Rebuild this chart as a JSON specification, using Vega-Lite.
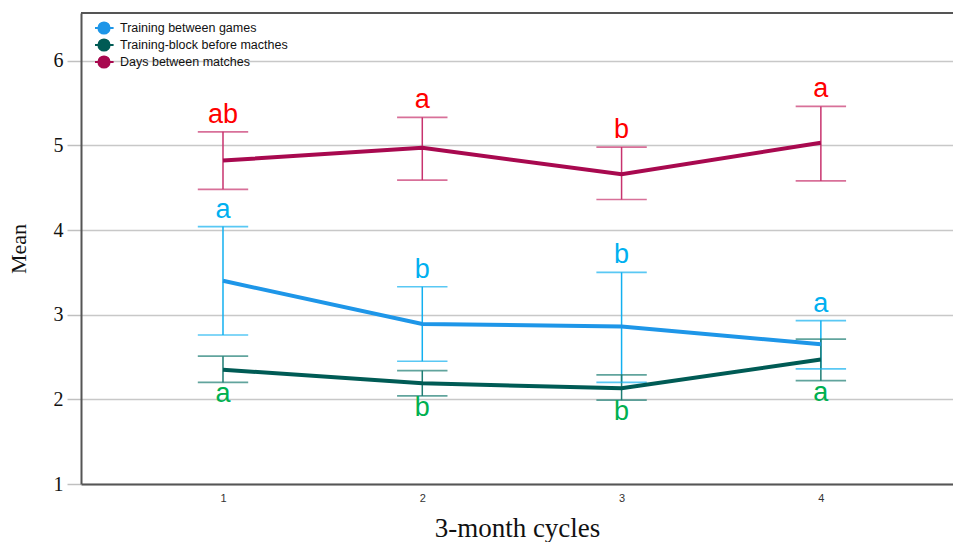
{
  "$schema": "https://vega.github.io/schema/vega-lite/v6.json",
  "width": 872,
  "height": 471,
  "autosize": {"type": "none"},
  "padding": {"left": 81, "top": 13, "right": 0, "bottom": 58},
  "background": "white",
  "config": {"view": {"stroke": null}},
  "data": {
    "values": [
      {"cycle": 1, "group": "Days between matches", "mean": 4.82, "lower": 4.48, "upper": 5.16, "letter": "ab"},
      {"cycle": 2, "group": "Days between matches", "mean": 4.97, "lower": 4.59, "upper": 5.33, "letter": "a"},
      {"cycle": 3, "group": "Days between matches", "mean": 4.66, "lower": 4.36, "upper": 4.98, "letter": "b"},
      {"cycle": 4, "group": "Days between matches", "mean": 5.03, "lower": 4.58, "upper": 5.46, "letter": "a"},
      {"cycle": 1, "group": "Training between games", "mean": 3.40, "lower": 2.76, "upper": 4.04, "letter": "a"},
      {"cycle": 2, "group": "Training between games", "mean": 2.89, "lower": 2.45, "upper": 3.33, "letter": "b"},
      {"cycle": 3, "group": "Training between games", "mean": 2.86, "lower": 2.20, "upper": 3.50, "letter": "b"},
      {"cycle": 4, "group": "Training between games", "mean": 2.65, "lower": 2.36, "upper": 2.93, "letter": "a"},
      {"cycle": 1, "group": "Training-block before macthes", "mean": 2.35, "lower": 2.20, "upper": 2.51, "letter": "a"},
      {"cycle": 2, "group": "Training-block before macthes", "mean": 2.19, "lower": 2.04, "upper": 2.34, "letter": "b"},
      {"cycle": 3, "group": "Training-block before macthes", "mean": 2.13, "lower": 1.99, "upper": 2.29, "letter": "b"},
      {"cycle": 4, "group": "Training-block before macthes", "mean": 2.47, "lower": 2.22, "upper": 2.71, "letter": "a"}
    ]
  },
  "layer": [
    {
      "mark": {"type": "rule", "color": "#555", "strokeWidth": 2},
      "encoding": {"y": {"datum": 6.563, "type": "quantitative"}}
    },
    {
      "mark": {"type": "rule", "strokeWidth": 1.5},
      "encoding": {
        "x": {
          "field": "cycle", "type": "quantitative",
          "scale": {"domain": [0.2875, 4.663], "nice": false, "zero": false},
          "axis": {
            "values": [1, 2, 3, 4], "format": "d", "grid": false, "ticks": false,
            "domain": true, "domainColor": "#555", "domainWidth": 2,
            "labelFont": "Liberation Sans", "labelFontSize": 11, "labelColor": "#333", "labelPadding": 8,
            "title": "3-month cycles", "titleFont": "Liberation Serif", "titleFontSize": 27,
            "titleFontWeight": "normal", "titleColor": "#111", "titlePadding": 12
          }
        },
        "y": {
          "field": "lower", "type": "quantitative",
          "scale": {"domain": [1, 6.563], "nice": false, "zero": false},
          "axis": {
            "values": [1, 2, 3, 4, 5, 6], "format": "d", "grid": true, "gridColor": "#c8c8c8", "gridWidth": 1.5,
            "ticks": true, "tickSize": 14, "tickColor": "#c0c0c0", "tickWidth": 1.5,
            "domain": true, "domainColor": "#555", "domainWidth": 2,
            "labelFont": "Liberation Serif", "labelFontSize": 20, "labelColor": "#111", "labelPadding": 4,
            "title": "Mean", "titleFont": "Liberation Serif", "titleFontSize": 22,
            "titleFontWeight": "normal", "titleColor": "#111", "titlePadding": 23
          }
        },
        "y2": {"field": "upper"},
        "stroke": {
          "field": "group", "type": "nominal", "legend": null,
          "scale": {
            "domain": ["Days between matches", "Training between games", "Training-block before macthes"],
            "range": ["#C8336E", "#12B0F0", "#1E7D74"]
          }
        }
      }
    },
    {
      "mark": {"type": "tick", "orient": "horizontal", "size": 49, "thickness": 0.3, "filled": false, "strokeWidth": 1.4},
      "encoding": {
        "x": {"field": "cycle", "type": "quantitative"},
        "y": {"field": "upper", "type": "quantitative"},
        "stroke": {"field": "group", "type": "nominal", "legend": null}
      }
    },
    {
      "mark": {"type": "tick", "orient": "horizontal", "size": 49, "thickness": 0.3, "filled": false, "strokeWidth": 1.4},
      "encoding": {
        "x": {"field": "cycle", "type": "quantitative"},
        "y": {"field": "lower", "type": "quantitative"},
        "stroke": {"field": "group", "type": "nominal", "legend": null}
      }
    },
    {
      "mark": {"type": "line", "strokeWidth": 4},
      "encoding": {
        "x": {"field": "cycle", "type": "quantitative"},
        "y": {"field": "mean", "type": "quantitative"},
        "color": {
          "field": "group", "type": "nominal",
          "scale": {
            "domain": ["Training between games", "Training-block before macthes", "Days between matches"],
            "range": ["#1E96E8", "#005B55", "#A8094F"]
          },
          "legend": {
            "orient": "none", "legendX": 14, "legendY": 7, "title": null, "padding": 0,
            "symbolType": "M-1.2,0L-0.7,0M0.7,0L1.2,0M0.7,0C0.7,0.387,0.387,0.7,0,0.7C-0.387,0.7,-0.7,0.387,-0.7,0C-0.7,-0.387,-0.387,-0.7,0,-0.7C0.387,-0.7,0.7,-0.387,0.7,0Z",
            "symbolSize": 256, "symbolStrokeWidth": 2, "clipHeight": 16,
            "labelFont": "Liberation Sans", "labelFontSize": 12.5, "labelColor": "#111", "labelLimit": 400,
            "labelOffset": 7, "rowPadding": 1,
            "encode": {
              "symbols": {
                "update": {
                  "fill": {"scale": "color", "field": "value"},
                  "stroke": {"scale": "color", "field": "value"},
                  "fillOpacity": {"value": 1}
                }
              }
            }
          }
        }
      }
    },
    {
      "transform": [{"filter": "datum.group !== 'Training-block before macthes'"}],
      "mark": {"type": "text", "fontSize": 27, "font": "Liberation Sans", "baseline": "alphabetic", "align": "center", "dy": -9},
      "encoding": {
        "x": {"field": "cycle", "type": "quantitative"},
        "y": {"field": "upper", "type": "quantitative"},
        "text": {"field": "letter"},
        "fill": {
          "field": "group", "type": "nominal", "legend": null,
          "scale": {
            "domain": ["Training-block before macthes", "Days between matches", "Training between games"],
            "range": ["#00B050", "#FF0000", "#00B0F0"]
          }
        }
      }
    },
    {
      "transform": [{"filter": "datum.group === 'Training-block before macthes'"}],
      "mark": {"type": "text", "fontSize": 27, "font": "Liberation Sans", "baseline": "alphabetic", "align": "center", "dy": 20},
      "encoding": {
        "x": {"field": "cycle", "type": "quantitative"},
        "y": {"field": "lower", "type": "quantitative"},
        "text": {"field": "letter"},
        "fill": {"field": "group", "type": "nominal", "legend": null}
      }
    }
  ]
}
